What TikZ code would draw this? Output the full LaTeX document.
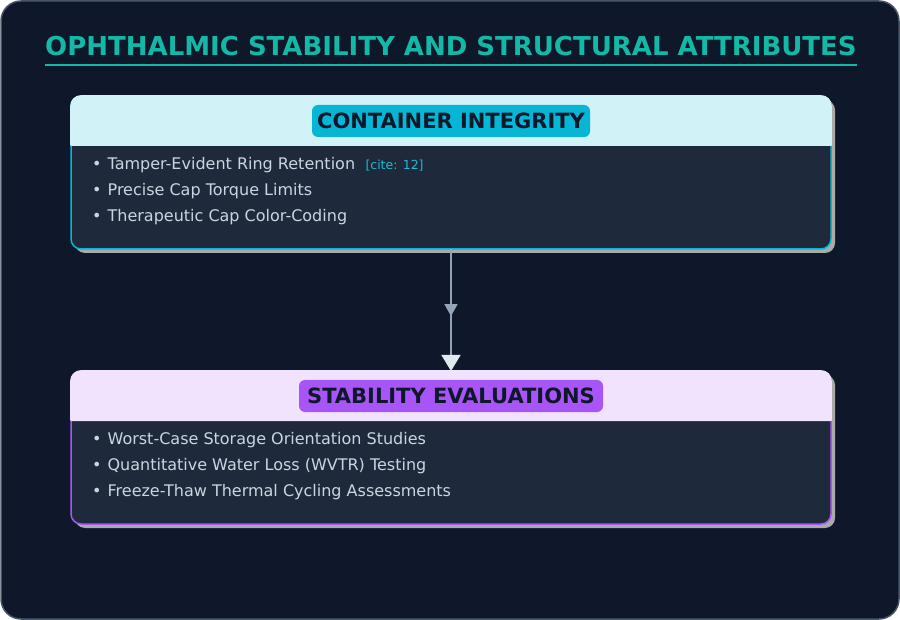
\documentclass[tikz,border=0pt]{standalone}
\usepackage{fontspec}
\setmainfont{DejaVu Sans}
\usetikzlibrary{arrows.meta,shadows,decorations.markings}
\definecolor{bgdark}{HTML}{0F172A}
\definecolor{frameline}{HTML}{475569}
\definecolor{teal}{HTML}{14B8A6}
\definecolor{bodyfill}{HTML}{1E293B}
\definecolor{cyanline}{HTML}{06B6D4}
\definecolor{cyanhead}{HTML}{D1F2F7}
\definecolor{purpline}{HTML}{A855F7}
\definecolor{purphead}{HTML}{F1E3FE}
\definecolor{itemtext}{HTML}{CBD5E1}
\definecolor{citecol}{HTML}{22B8CF}
\definecolor{pilltext}{HTML}{0F172A}
\definecolor{shadowgray}{HTML}{AAAAAA}
\definecolor{arrowgray}{HTML}{94A3B8}
\definecolor{arrowlight}{HTML}{E2E8F0}
\tikzset{
  cardbox/.style={rectangle, rounded corners=10pt, minimum width=760pt, minimum height=153pt,
    inner sep=0pt, outer sep=0pt, fill=bodyfill, line width=1.5pt,
    drop shadow={shadow xshift=4pt, shadow yshift=-4pt, fill=shadowgray, opacity=1}},
  headband/.style={line width=1.6pt, line join=round},
  pill/.style={rectangle, rounded corners=6pt, inner sep=0pt, outer sep=0pt, minimum height=32pt,
    text=pilltext, font=\fontsize{21}{24}\selectfont\bfseries},
  item/.style={anchor=west, inner sep=0pt, text=itemtext, font=\fontsize{16}{19}\selectfont},
  citetag/.style={anchor=west, inner sep=0pt, text=citecol, font=\fontsize{12.5}{15}\selectfont},
  flowline/.style={draw=arrowgray, line width=1.5pt,
    -{Triangle[width=19pt,length=16pt,color=arrowlight]},
    postaction={decorate},
    decoration={markings, mark=at position 0.55 with {\arrow{Triangle[width=13pt,length=12pt,color=arrowgray]}}}}
}
\begin{document}
\begin{tikzpicture}[x=1pt,y=-1pt]
\useasboundingbox (0,0) rectangle (900,620);
\fill[white] (0,0) rectangle (900,620);
\draw[frameline, fill=bgdark, line width=1.5pt, rounded corners=20pt] (1,1) rectangle (899,619);
% title
\node[text=teal, font=\fontsize{26}{30}\selectfont\bfseries, inner sep=0pt] (title) at (451,46) {OPHTHALMIC STABILITY AND STRUCTURAL ATTRIBUTES};
\draw[teal, line width=2pt] (45,65) -- (857,65);
% card 1
\node[cardbox, draw=cyanline] (c1) at (451,172.5) {};
\filldraw[cyanhead, headband] ([yshift=-49.2pt]c1.north west) {[rounded corners=10pt] -- (c1.north west) -- (c1.north east)} -- ([yshift=-49.2pt]c1.north east) -- cycle;
\node[pill, fill=cyanline, minimum width=278pt] (p1) at (451,121) {CONTAINER INTEGRITY};
\node[item] (i11) at (92,165.5) {•\hspace{6pt}Tamper-Evident Ring Retention};
\node[citetag] (cite1) at ([xshift=10pt]i11.east) {[cite: 12]};
\node[item] (i12) at (92,191.5) {•\hspace{6pt}Precise Cap Torque Limits};
\node[item] (i13) at (92,217.5) {•\hspace{6pt}Therapeutic Cap Color-Coding};
% card 2
\node[cardbox, draw=purpline] (c2) at (451,447.5) {};
\filldraw[purphead, headband] ([yshift=-49.2pt]c2.north west) {[rounded corners=10pt] -- (c2.north west) -- (c2.north east)} -- ([yshift=-49.2pt]c2.north east) -- cycle;
\node[pill, fill=purpline, minimum width=304pt] (p2) at (451,396) {STABILITY EVALUATIONS};
\node[item] (i21) at (92,440.5) {•\hspace{6pt}Worst-Case Storage Orientation Studies};
\node[item] (i22) at (92,466.5) {•\hspace{6pt}Quantitative Water Loss (WVTR) Testing};
\node[item] (i23) at (92,492.5) {•\hspace{6pt}Freeze-Thaw Thermal Cycling Assessments};
% connector
\draw[flowline] (c1.south) -- (c2.north);
\end{tikzpicture}
\end{document}
